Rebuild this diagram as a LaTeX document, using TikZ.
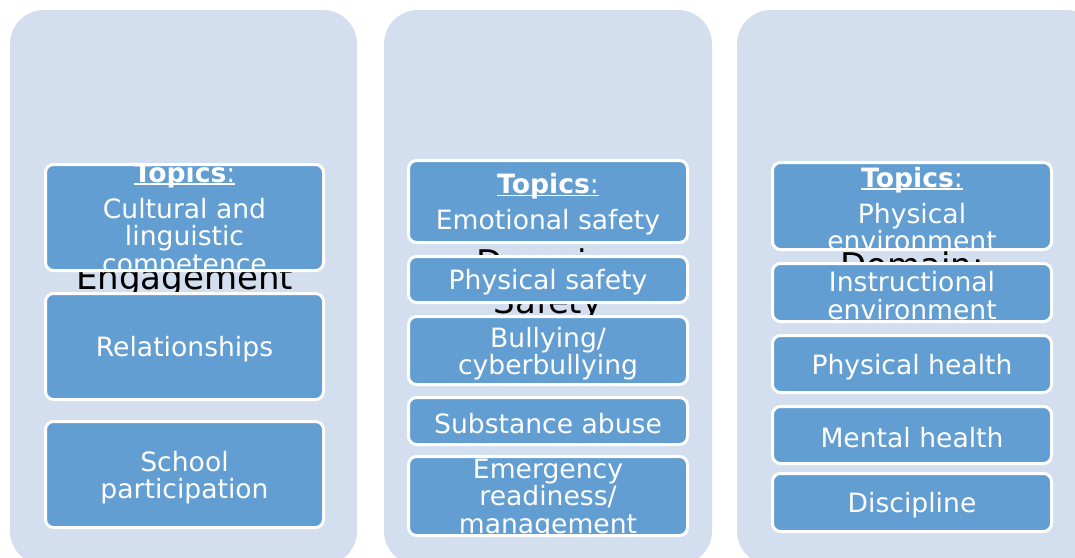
\documentclass[tikz,border=0pt]{standalone}
\usepackage{fontspec}
\setmainfont{DejaVu Sans}
\definecolor{panelc}{RGB}{211,222,238}
\definecolor{boxc}{RGB}{98,158,210}
\newcommand\topicsline{\setbox0\hbox{\textbf{Topics}:}\rlap{\rule[-2.5pt]{\wd0}{1.6pt}}\box0}
\tikzset{
  panel/.style={fill=panelc, draw=none, rounded corners=34pt},
  topic/.style={rectangle, fill=boxc, draw=white, line width=3pt, rounded corners=8pt, inner sep=0pt, outer sep=0pt},
  boxtext/.style={text=white, align=center, inner sep=0pt, yshift=-3pt, font=\fontsize{26.6}{27.5}\selectfont},
  titletext/.style={text=black, anchor=base, inner sep=0pt, font=\fontsize{34}{39}\selectfont},
}
\newcommand\mybox[6]{%
  \node[topic, minimum width=#4pt, minimum height=#5pt,
    path picture={\node[boxtext] at (path picture bounding box.center) {#6};}]
    (#1) at (#2,#3) {};}
\begin{document}
\begin{tikzpicture}[x=1pt,y=-1pt]
\useasboundingbox (0,0) rectangle (1075,557);
\clip (0,0) rectangle (1075,557);
% panels
\node[panel, minimum width=347pt, minimum height=555pt, inner sep=0pt] (p1) at (183.5,287.5) {};
\node[panel, minimum width=328pt, minimum height=555pt, inner sep=0pt] (p2) at (548,287.5) {};
\node[panel, minimum width=363pt, minimum height=555pt, inner sep=0pt] (p3) at (918.5,287.5) {};
% titles (behind topic boxes)
\node[titletext] (t1a) at (184.5,250) {Domain:};
\node[titletext] (t1b) at (184.5,289) {Engagement};
\node[titletext] (t2a) at (548,274) {Domain:};
\node[titletext] (t2b) at (548,313) {Safety};
\node[titletext] (t3a) at (912,277) {Domain:};
\node[titletext] (t3b) at (912,316) {Environment};
% left column
\mybox{e1}{184.5}{217.5}{278}{106}{\topicsline\\[8.5pt]Cultural and\\linguistic\\competence}
\mybox{e2}{184.5}{346.5}{278}{106}{Relationships}
\mybox{e3}{184.5}{474.5}{278}{106}{School\\participation}
% middle column
\mybox{s1}{548}{201.5}{279}{82}{\topicsline\\[8.5pt]Emotional safety}
\mybox{s2}{548}{279.5}{279}{46}{Physical safety}
\mybox{s3}{548}{350.5}{279}{68}{Bullying/\\cyberbullying}
\mybox{s4}{548}{421}{279}{47}{Substance abuse}
\mybox{s5}{548}{496}{279}{79}{Emergency\\readiness/\\management}
% right column
\mybox{v1}{912}{206}{279}{87}{\topicsline\\[8.5pt]Physical\\environment}
\mybox{v2}{912}{292.5}{279}{58}{Instructional\\environment}
\mybox{v3}{912}{364}{279}{57}{Physical health}
\mybox{v4}{912}{435}{279}{57}{Mental health}
\mybox{v5}{912}{502.5}{279}{58}{Discipline}
\end{tikzpicture}
\end{document}
